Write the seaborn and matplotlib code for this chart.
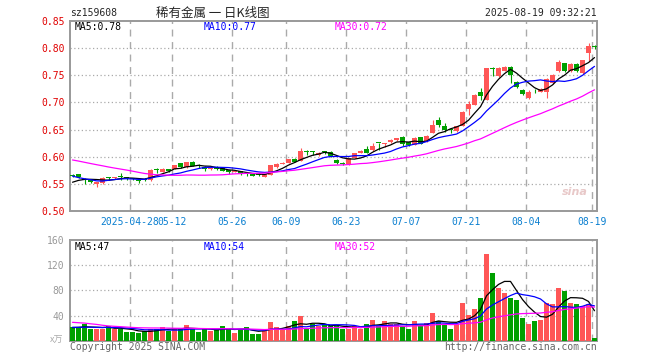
import numpy as np
import pandas as pd
import matplotlib
matplotlib.use("Agg")
import matplotlib.pyplot as plt
import seaborn as sns

# 图上看不到的前29个交易日, 只用来算均线
prior_close = [0.622, 0.625, 0.620, 0.618, 0.623, 0.626, 0.621, 0.617, 0.615, 0.620,
               0.622, 0.618, 0.614, 0.613, 0.585, 0.590, 0.588, 0.580, 0.575, 0.585,
               0.590, 0.578, 0.570, 0.575, 0.565, 0.545, 0.548, 0.552, 0.555]
prior_volume = [40, 45, 52, 48, 60, 55, 38, 35, 33, 32,
                25, 22, 24, 20, 23, 21, 25, 22, 20, 23,
                22, 24, 20, 21, 22, 19, 23, 20, 21]

# 日K数据 (2025-04-14 ~ 2025-08-19)
open_ = [0.566, 0.568, 0.559, 0.557, 0.549, 0.552, 0.561, 0.560, 0.563, 0.561,
         0.560, 0.557, 0.559, 0.557, 0.577, 0.572, 0.578, 0.577, 0.588, 0.581,
         0.590, 0.584, 0.581, 0.578, 0.581, 0.580, 0.575, 0.572, 0.573, 0.570,
         0.569, 0.567, 0.563, 0.567, 0.581, 0.587, 0.589, 0.596, 0.593, 0.609,
         0.609, 0.603, 0.609, 0.609, 0.594, 0.589, 0.586, 0.598, 0.607, 0.615,
         0.612, 0.626, 0.624, 0.627, 0.630, 0.637, 0.627, 0.622, 0.636, 0.629,
         0.644, 0.667, 0.657, 0.651, 0.647, 0.657, 0.688, 0.696, 0.720, 0.705,
         0.763, 0.748, 0.758, 0.766, 0.738, 0.723, 0.708, 0.723, 0.720, 0.720,
         0.735, 0.757, 0.772, 0.757, 0.771, 0.754, 0.791, 0.804]
high = [0.568, 0.569, 0.560, 0.558, 0.553, 0.563, 0.563, 0.563, 0.570, 0.563,
        0.561, 0.558, 0.560, 0.577, 0.579, 0.579, 0.578, 0.585, 0.588, 0.591,
        0.592, 0.586, 0.583, 0.581, 0.582, 0.581, 0.576, 0.575, 0.574, 0.572,
        0.570, 0.570, 0.568, 0.585, 0.588, 0.590, 0.596, 0.597, 0.616, 0.612,
        0.611, 0.609, 0.611, 0.610, 0.596, 0.590, 0.598, 0.607, 0.612, 0.619,
        0.626, 0.626, 0.626, 0.632, 0.635, 0.638, 0.628, 0.636, 0.637, 0.640,
        0.668, 0.674, 0.662, 0.653, 0.657, 0.684, 0.703, 0.715, 0.726, 0.764,
        0.766, 0.766, 0.767, 0.767, 0.740, 0.724, 0.722, 0.725, 0.726, 0.745,
        0.752, 0.779, 0.773, 0.772, 0.772, 0.778, 0.809, 0.806]
low = [0.562, 0.561, 0.549, 0.551, 0.544, 0.549, 0.558, 0.559, 0.558, 0.558,
       0.557, 0.551, 0.556, 0.556, 0.570, 0.571, 0.572, 0.577, 0.580, 0.580,
       0.582, 0.580, 0.574, 0.576, 0.576, 0.573, 0.569, 0.571, 0.566, 0.564,
       0.564, 0.564, 0.562, 0.566, 0.580, 0.586, 0.588, 0.591, 0.592, 0.603,
       0.604, 0.602, 0.605, 0.600, 0.586, 0.585, 0.585, 0.597, 0.606, 0.606,
       0.611, 0.613, 0.617, 0.626, 0.629, 0.619, 0.620, 0.621, 0.623, 0.628,
       0.643, 0.655, 0.645, 0.644, 0.646, 0.656, 0.677, 0.695, 0.705, 0.704,
       0.748, 0.747, 0.757, 0.735, 0.727, 0.714, 0.706, 0.717, 0.719, 0.708,
       0.734, 0.756, 0.756, 0.756, 0.756, 0.752, 0.777, 0.799]
close = [0.565, 0.562, 0.557, 0.553, 0.553, 0.561, 0.560, 0.562, 0.562, 0.560,
         0.559, 0.556, 0.557, 0.576, 0.576, 0.578, 0.574, 0.584, 0.581, 0.590,
         0.583, 0.583, 0.577, 0.579, 0.578, 0.574, 0.571, 0.573, 0.568, 0.569,
         0.565, 0.566, 0.568, 0.584, 0.587, 0.588, 0.596, 0.591, 0.610, 0.608,
         0.608, 0.607, 0.608, 0.601, 0.588, 0.586, 0.597, 0.606, 0.611, 0.607,
         0.620, 0.625, 0.626, 0.630, 0.634, 0.624, 0.621, 0.635, 0.624, 0.639,
         0.659, 0.659, 0.650, 0.650, 0.656, 0.682, 0.698, 0.714, 0.711, 0.763,
         0.762, 0.763, 0.766, 0.751, 0.728, 0.715, 0.720, 0.722, 0.725, 0.743,
         0.751, 0.775, 0.757, 0.771, 0.757, 0.778, 0.804, 0.803]
volume = [21, 21, 27, 19, 19, 19, 23, 19, 19, 14,
          14, 12, 15.5, 19, 19, 21, 16, 19, 19, 25,
          19, 14, 18, 16, 19, 23, 19, 12, 19, 22,
          11, 11, 16, 30, 22, 19, 23, 31, 39.5, 18,
          27, 23, 27, 23, 23, 19, 19, 24, 19, 27,
          33, 23, 31, 27, 27, 23, 19, 31, 23, 28,
          44, 31, 25, 19, 27, 60, 41, 51, 68, 137,
          108, 83, 75, 68, 65, 36, 27, 31, 33, 60,
          59, 84, 79, 60, 59, 55, 59, 5]

tick_idx = [10, 17, 27, 36, 46, 56, 66, 76, 87]
tick_labels = ["2025-04-28", "05-12", "05-26", "06-09", "06-23",
               "07-07", "07-21", "08-04", "08-19"]

price_ma_text = ["MA5:0.78", "MA10:0.77", "MA30:0.72"]
vol_ma_text = ["MA5:47", "MA10:54", "MA30:52"]

sns.set_style("white")
plt.rcParams["font.family"] = ["DejaVu Sans Mono", "Noto Sans CJK SC"]

RED = "#ff5656"
GREEN = "#00a000"
GRID = "#aaaaaa"
FRAME = "#999999"
ma_colors = ["black", "#0000ff", "#ff00ff"]

df = pd.DataFrame({"o": open_, "h": high, "l": low, "c": close, "v": volume})
df["x"] = np.arange(len(df))
df["up"] = np.where(df["c"] >= df["o"], "up", "down")
n = len(df)

all_close = pd.Series(prior_close + close)
all_vol = pd.Series(prior_volume + volume)
for w in (5, 10, 30):
    df[f"ma{w}"] = all_close.rolling(w).mean().iloc[-n:].values
    df[f"vma{w}"] = all_vol.rolling(w).mean().iloc[-n:].values

fig = plt.figure(figsize=(6.6, 3.6), dpi=100)
W, H = 660, 360
xmin = -2.5 / 6
xmax = 527 / 6 + xmin
ax = fig.add_axes([70 / W, 1 - 211 / H, 527 / W, 190 / H])
axv = fig.add_axes([70 / W, 1 - 340.7 / H, 527 / W, 100.7 / H])

# K线
cols = np.where(df["up"] == "up", RED, GREEN)
ax.vlines(df["x"], df["l"], df["h"], colors=cols, lw=0.8, zorder=3)
body = np.maximum((df["c"] - df["o"]).abs(), 0.0018)
ax.bar(df["x"], body, bottom=np.minimum(df["o"], df["c"]), width=0.8,
       color=cols, linewidth=0, zorder=4)
for w, col in zip((5, 10, 30), ma_colors):
    sns.lineplot(data=df, x="x", y=f"ma{w}", color=col, lw=0.9, ax=ax, zorder=5)

# 成交量
sns.barplot(data=df, x="x", y="v", hue="up", palette={"up": RED, "down": GREEN},
            dodge=False, width=0.83, saturation=1, linewidth=0, legend=False,
            ax=axv, zorder=3)
for w, col in zip((5, 10, 30), ma_colors):
    axv.plot(df["x"], df[f"vma{w}"], color=col, lw=0.9, zorder=5)

for a in (ax, axv):
    a.set_xlim(xmin, xmax)
    a.set_xlabel("")
    a.set_ylabel("")
    for s in a.spines.values():
        s.set_color(FRAME)
        s.set_linewidth(1.4)
    for t in tick_idx:
        a.axvline(t + xmin, color=GRID, lw=1, ls=(0, (5, 4)), zorder=1)
    a.tick_params(length=0, pad=4)

ax.set_ylim(0.50, 0.85)
ax.set_yticks([0.50, 0.55, 0.60, 0.65, 0.70, 0.75, 0.80, 0.85])
ax.set_yticklabels([f"{v:.2f}" for v in ax.get_yticks()], color="#e00000", fontsize=7)
for v in [0.55, 0.60, 0.65, 0.70, 0.75, 0.80]:
    ax.axhline(v, color=GRID, lw=0.9, ls=(0, (1, 2)), zorder=1)
ax.set_xticks([t + xmin for t in tick_idx])
ax.set_xticklabels(tick_labels, color="#0a7fd0", fontsize=7)

axv.set_ylim(0, 160)
axv.set_yticks([40, 80, 120, 160])
axv.set_yticklabels(["40", "80", "120", "160"], color="#999999", fontsize=7)
for v in [40, 80, 120]:
    axv.axhline(v, color=GRID, lw=0.9, ls=(0, (1, 2)), zorder=1)
axv.set_xticks([])

# 文字
def px(x, y):
    return x / W, 1 - y / H

fig.text(*px(70, 13.5), "sz159608", fontsize=7, va="center", ha="left")
fig.text(*px(213, 13), "稀有金属 一 日K线图", fontsize=9, va="center", ha="center",
         family=["Noto Sans CJK SC", "DejaVu Sans"])
fig.text(*px(597, 13), "2025-08-19 09:32:21", fontsize=7, va="center", ha="right")
for txt, xx, col in zip(price_ma_text, (75, 204, 335), ma_colors):
    fig.text(*px(xx, 26.5), txt, fontsize=7, va="center", ha="left", color=col)
for txt, xx, col in zip(vol_ma_text, (75, 204, 335), ma_colors):
    fig.text(*px(xx, 246.5), txt, fontsize=7, va="center", ha="left", color=col)
fig.text(*px(63, 340), "x万", fontsize=6.5, va="center", ha="right", color="#aaaaaa",
         family=["Noto Sans CJK SC", "DejaVu Sans"])
fig.text(*px(70, 347), "Copyright 2025 SINA.COM", fontsize=7, va="center", ha="left",
         color="#666666")
fig.text(*px(597, 347), "http://finance.sina.com.cn", fontsize=7, va="center",
         ha="right", color="#666666")
fig.text(*px(575, 192), "sina", fontsize=8, va="center", ha="center",
         color="#e8c8c8", style="italic", weight="bold", family="DejaVu Sans")

fig.savefig("out.png", dpi=100, facecolor="white")
